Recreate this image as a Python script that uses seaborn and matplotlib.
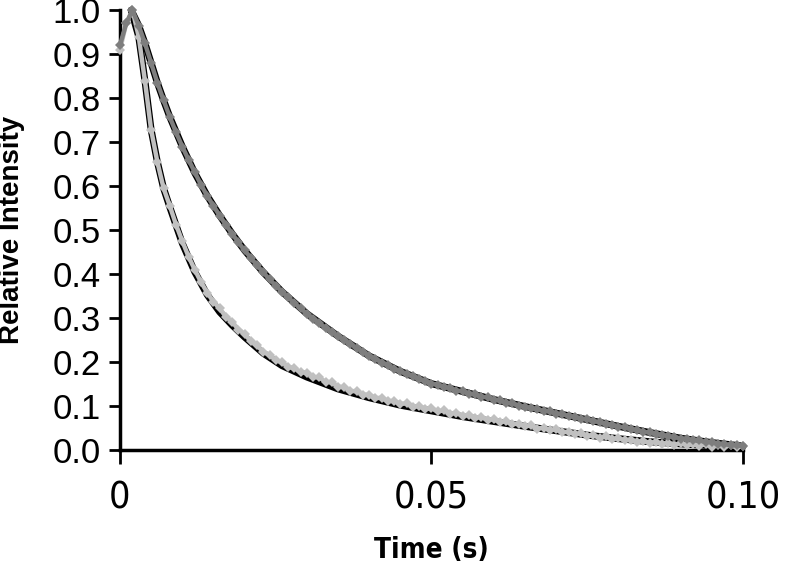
import numpy as np
import pandas as pd
import seaborn as sns
import matplotlib.pyplot as plt

# Measured decay traces (time in s, intensity normalised to peak)
time_s = [0.000, 0.001, 0.002, 0.003, 0.004, 0.005, 0.006, 0.007, 0.008, 0.009,
          0.010, 0.011, 0.012, 0.013, 0.014, 0.015, 0.016, 0.017, 0.018, 0.019,
          0.020, 0.021, 0.022, 0.023, 0.024, 0.025, 0.026, 0.027, 0.028, 0.029,
          0.030, 0.031, 0.032, 0.033, 0.034, 0.035, 0.036, 0.037, 0.038, 0.039,
          0.040, 0.041, 0.042, 0.043, 0.044, 0.045, 0.046, 0.047, 0.048, 0.049,
          0.050, 0.051, 0.052, 0.053, 0.054, 0.055, 0.056, 0.057, 0.058, 0.059,
          0.060, 0.061, 0.062, 0.063, 0.064, 0.065, 0.066, 0.067, 0.068, 0.069,
          0.070, 0.071, 0.072, 0.073, 0.074, 0.075, 0.076, 0.077, 0.078, 0.079,
          0.080, 0.081, 0.082, 0.083, 0.084, 0.085, 0.086, 0.087, 0.088, 0.089,
          0.090, 0.091, 0.092, 0.093, 0.094, 0.095, 0.096, 0.097, 0.098, 0.099,
          0.100]

slow_trace = [0.92, 0.97, 1.00, 0.965, 0.925, 0.880, 0.835, 0.795, 0.757, 0.722,
              0.690, 0.660, 0.632, 0.603, 0.578, 0.555, 0.533, 0.512, 0.492, 0.472,
              0.454, 0.437, 0.420, 0.404, 0.388, 0.374, 0.360, 0.347, 0.334, 0.322,
              0.310, 0.299, 0.288, 0.278, 0.268, 0.259, 0.250, 0.241, 0.232, 0.224,
              0.214, 0.208, 0.199, 0.193, 0.184, 0.179, 0.172, 0.168, 0.161, 0.158,
              0.151, 0.149, 0.143, 0.141, 0.135, 0.134, 0.128, 0.127, 0.121, 0.120,
              0.114, 0.113, 0.107, 0.106, 0.101, 0.099, 0.095, 0.093, 0.089, 0.088,
              0.083, 0.082, 0.077, 0.076, 0.071, 0.070, 0.065, 0.064, 0.059, 0.058,
              0.053, 0.052, 0.047, 0.046, 0.041, 0.040, 0.036, 0.035, 0.031, 0.030,
              0.026, 0.026, 0.022, 0.022, 0.018, 0.018, 0.014, 0.014, 0.011, 0.011,
              0.009]

fast_trace = [0.91, 0.97, 1.00, 0.94, 0.84, 0.728, 0.655, 0.595, 0.555, 0.512,
              0.475, 0.440, 0.410, 0.382, 0.358, 0.337, 0.322, 0.303, 0.292, 0.274,
              0.264, 0.247, 0.238, 0.223, 0.217, 0.204, 0.200, 0.189, 0.186, 0.177,
              0.176, 0.166, 0.165, 0.155, 0.154, 0.144, 0.143, 0.134, 0.134, 0.126,
              0.126, 0.118, 0.119, 0.111, 0.112, 0.105, 0.106, 0.099, 0.100, 0.093,
              0.095, 0.088, 0.090, 0.083, 0.085, 0.078, 0.080, 0.074, 0.075, 0.069,
              0.070, 0.064, 0.065, 0.059, 0.060, 0.054, 0.056, 0.049, 0.051, 0.045,
              0.047, 0.040, 0.042, 0.036, 0.038, 0.032, 0.034, 0.028, 0.031, 0.025,
              0.027, 0.022, 0.024, 0.019, 0.021, 0.016, 0.019, 0.014, 0.017, 0.012,
              0.016, 0.011, 0.014, 0.010, 0.013, 0.008, 0.012, 0.007, 0.011, 0.006,
              0.010]

# Fitted curves (black lines)
fit_time = [0.0018, 0.003, 0.004, 0.005, 0.006, 0.007, 0.008, 0.010, 0.012, 0.014,
            0.016, 0.018, 0.020, 0.023, 0.026, 0.030, 0.035, 0.040, 0.045, 0.050,
            0.055, 0.060, 0.065, 0.070, 0.075, 0.080, 0.085, 0.090, 0.095, 0.100]
fit_slow = [1.00, 0.965, 0.925, 0.880, 0.835, 0.795, 0.757, 0.690, 0.630, 0.578,
            0.533, 0.492, 0.454, 0.404, 0.360, 0.310, 0.259, 0.214, 0.179, 0.151,
            0.133, 0.115, 0.099, 0.084, 0.069, 0.054, 0.040, 0.027, 0.017, 0.009]
fit_fast = [1.00, 0.94, 0.84, 0.728, 0.655, 0.595, 0.552, 0.470, 0.405, 0.353,
            0.314, 0.284, 0.257, 0.220, 0.192, 0.166, 0.139, 0.119, 0.102, 0.089,
            0.076, 0.065, 0.054, 0.044, 0.034, 0.026, 0.019, 0.014, 0.010, 0.008]

x_ticks = [0.0, 0.05, 0.10]
x_tick_labels = ['0', '0.05', '0.10']
y_ticks = [0.0, 0.1, 0.2, 0.3, 0.4, 0.5, 0.6, 0.7, 0.8, 0.9, 1.0]

sns.set_style('ticks')
plt.rcParams['font.family'] = ['Liberation Sans', 'DejaVu Sans']
plt.rcParams['text.color'] = 'black'
plt.rcParams['axes.labelcolor'] = 'black'

fig = plt.figure(figsize=(7.92, 5.64), dpi=100)
ax = fig.add_axes([0.1515, 0.202, 0.7866, 0.780])

# fits underneath, data on top
sns.lineplot(x=fit_time, y=fit_fast, color='black', lw=5, ax=ax, zorder=2, sort=False)
sns.lineplot(x=fit_time, y=fit_slow, color='black', lw=5, ax=ax, zorder=2, sort=False)

sns.lineplot(x=time_s, y=fast_trace, color='#c0c0c0', lw=3.2, marker='D',
             markersize=5.5, markeredgewidth=0, ax=ax, zorder=3, sort=False)
sns.lineplot(x=time_s, y=slow_trace, color='#7e7e7e', lw=3.2, marker='D',
             markersize=5.5, markeredgewidth=0, ax=ax, zorder=4, sort=False)

for ln in ax.lines:
    ln.set_clip_on(False)

ax.set_xlim(0, 0.10)
ax.set_ylim(0, 1.0)

ax.set_yticks(y_ticks)
ax.set_yticklabels(['%.1f' % v for v in y_ticks], fontsize=25, color='black')
ax.set_xticks(x_ticks)
ax.set_xticklabels(x_tick_labels, fontsize=27, fontfamily='DejaVu Sans',
                   fontstretch='condensed', color='black')

ax.tick_params(axis='y', direction='out', length=8, width=2, pad=6, colors='black')
ax.tick_params(axis='x', direction='out', length=10, width=2, pad=12, colors='black')

sns.despine(ax=ax)
for side in ['left', 'bottom']:
    ax.spines[side].set_linewidth(2.5)
    ax.spines[side].set_color('black')

ax.set_ylabel('Relative Intensity', fontsize=20, fontweight='bold', color='black')
ax.yaxis.set_label_coords(-0.152, 0.5)
ax.set_xlabel('Time (s)', fontsize=20, fontweight='bold', fontfamily='DejaVu Sans',
              fontstretch='condensed', va='top', color='black')
ax.xaxis.set_label_coords(0.5, -0.195)

fig.savefig('out.png', dpi=100)
